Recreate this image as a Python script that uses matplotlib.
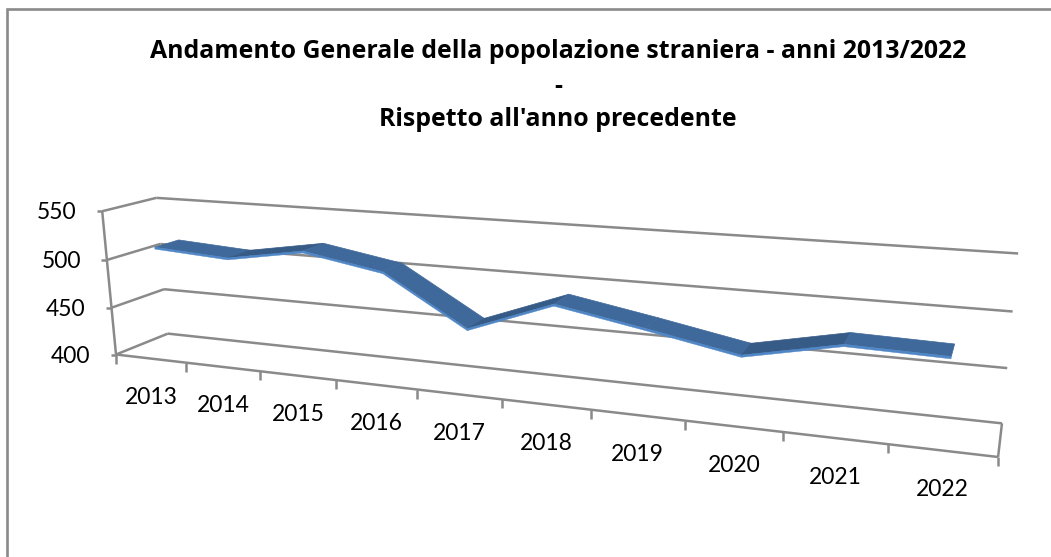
import numpy as np
import matplotlib
matplotlib.use("Agg")
import matplotlib.pyplot as plt
from matplotlib.patches import Polygon

years = [2013, 2014, 2015, 2016, 2017, 2018, 2019, 2020, 2021, 2022]
values = [512, 507, 520, 506, 458, 489, 474, 458, 476, 474]
y_ticks = [400, 450, 500, 550]
title_lines = ["Andamento Generale della popolazione straniera - anni 2013/2022", "-", "Rispetto all'anno precedente"]

W, H = 1051, 557
plt.rcParams['font.family'] = ['Lato', 'DejaVu Sans']
GRID = "#8A8A8A"
TOP_FALL = "#40699B"
TOP_RISE = "#375B87"
EDGE = "#4F86C6"

# Camera calibration: (category, value, depth) -> pixel
calib = [
    (0, 400, 0, 116, 354), (0, 550, 0, 101.7, 212), (0, 400, 1, 167.7, 334), (0, 550, 1, 156.7, 198),
    (10, 400, 1, 1002, 423), (10, 550, 1, 1018, 253), (10, 400, 0, 998, 457),
    (1, 400, 0, 186, 363), (5, 400, 0, 502, 400), (0, 500, 0, 107, 259), (0, 450, 0, 112, 307.5),
    (10, 500, 1, 1013, 312), (10, 450, 1, 1007, 368), (0, 500, 1, 160, 244), (0, 450, 1, 164, 289),
]
A = []
for u, v, d, px, py in calib:
    w = (v - 400) / 150
    A.append([u, w, d, 1, 0, 0, 0, 0, -px*u, -px*w, -px*d, -px])
    A.append([0, 0, 0, 0, u, w, d, 1, -py*u, -py*w, -py*d, -py])
P = np.linalg.svd(np.array(A))[2][-1].reshape(3, 4)

def project(u, v, d):
    h = P @ np.array([u, (v - 400) / 150, d, 1.0])
    return h[0] / h[2], h[1] / h[2]

fig = plt.figure(figsize=(W/100, H/100), dpi=100, facecolor="white")
ax = fig.add_axes([0, 0, 1, 1])
ax.set_xlim(0, W); ax.set_ylim(H, 0); ax.axis("off")

def seg(a, b, lw=1.8, color=GRID, z=1):
    ax.plot([a[0], b[0]], [a[1], b[1]], color=color, lw=lw, solid_capstyle="butt", zorder=z)

# frame (left and top only)
ax.plot([7, 7, W], [H, 9, 9], color="#8A8A8A", lw=1.9, solid_joinstyle="miter", zorder=1)

n = len(years)
for t in y_ticks:
    a = project(0, t, 0); b = project(0, t, 1); c = project(n, t, 1)
    seg(a, b); seg(b, c)
    seg((a[0]-5.5, a[1]), a)
    ax.text(a[0]-26, a[1]+1.5, str(t), ha="right", va="center", fontsize=16.5, color="black", zorder=5)

seg(project(0, 400, 0), project(0, 550, 0))
seg(project(0, 400, 0), project(n, 400, 0))
seg(project(n, 400, 0), project(n, 400, 1))
for i in range(n + 1):
    a = project(i, 400, 0)
    seg(a, (a[0], a[1] + 9))
for i, yr in enumerate(years):
    a = project(i + 0.5, 400, 0)
    ax.text(a[0] + 0.5, a[1] + 39, str(yr), ha="center", va="center", fontsize=16.5, color="black", zorder=5)

# ribbon
D0, D1, STRIP = 0.25, 0.71, 2.0
for i in range(n - 1):
    u0, u1 = i + 0.5, i + 1.5
    v0, v1 = values[i], values[i + 1]
    top = [project(u0, v0, D0), project(u1, v1, D0), project(u1, v1, D1), project(u0, v0, D1)]
    col = TOP_RISE if v1 > v0 else TOP_FALL
    ax.add_patch(Polygon(top, closed=True, fc=col, ec=col, lw=0.5, zorder=3))
    low0, low1 = project(u0, v0 - STRIP, D0), project(u1, v1 - STRIP, D0)
    strip = [top[0], top[1], low1, low0]
    ax.add_patch(Polygon(strip, closed=True, fc=EDGE, ec=EDGE, lw=0.3, zorder=4))

# title
cx = 558
for line, yy in zip(title_lines, [52, 86, 119]):
    ax.text(cx, yy, line, ha="center", va="center", fontsize=17.9, fontweight="bold",
            family=["Open Sans", "DejaVu Sans"], color="black", zorder=5)

fig.savefig("out.png", dpi=100)
